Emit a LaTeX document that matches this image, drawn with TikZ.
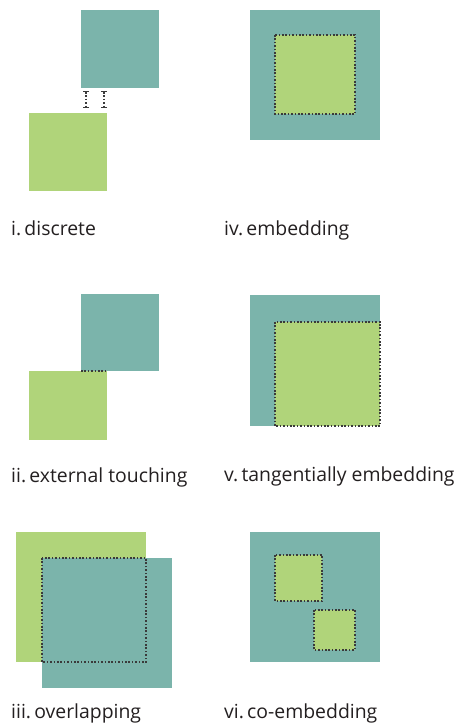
\documentclass[tikz,border=0pt]{standalone}
\usepackage{fontspec}
\setmainfont{Open Sans}
\usetikzlibrary{arrows.meta}
\definecolor{tealbox}{HTML}{7BB4AB}
\definecolor{greenbox}{HTML}{B0D47A}
\definecolor{dotline}{HTML}{3A3A3A}
\definecolor{captext}{HTML}{231F20}
\tikzset{
  edge/.style={dotline, line width=1.7pt, dash pattern=on 1.6pt off 1.8pt},
  caption/.style={anchor=base west, inner sep=0pt, font=\fontsize{19.4}{21}\selectfont, text=captext}
}
\begin{document}
\begin{tikzpicture}[x=1pt, y=-1pt]
\useasboundingbox (0,0) rectangle (461,724);

%i. discrete
\fill[tealbox] (81,10) rectangle (159,88);
\fill[greenbox] (29,113) rectangle (107,191);
\draw[edge, {Bar[width=6pt,line width=1.2pt]}-{Bar[width=6pt,line width=1.2pt]}] (86,91) -- (86,108);
\draw[edge, {Bar[width=6pt,line width=1.2pt]}-{Bar[width=6pt,line width=1.2pt]}] (104,91) -- (104,108);

%iv. embedding
\fill[tealbox] (250,10) rectangle (380,140);
\fill[greenbox] (275,35) rectangle (355,114);
\draw[edge] (275,35) rectangle (355,114);

%ii. external touching
\fill[tealbox] (81,294) rectangle (159,371);
\fill[greenbox] (29,371) rectangle (107,440);
\draw[edge] (81,371) -- (107,371);

%v. tangentially embedding
\fill[tealbox] (250,295) rectangle (380,426);
\fill[greenbox] (275,322) rectangle (380,426);
\draw[edge] (275,322) rectangle (380,426);

%iii. overlapping
\fill[greenbox] (16,532) rectangle (146,662);
\fill[tealbox] (42,558) rectangle (172,688);
\draw[edge] (42,558) rectangle (146,662);

%vi. co-embedding
\fill[tealbox] (250,532) rectangle (380,662);
\fill[greenbox] (275,555) rectangle (322,601);
\draw[edge] (275,555) rectangle (322,601);
\fill[greenbox] (314,610) rectangle (355,650);
\draw[edge] (314,610) rectangle (355,650);

%labels
\node[caption] (capi) at (11,235) {i.\,discrete};
\node[caption] (capiv) at (224,235) {iv.\,embedding};
\node[caption] (capii) at (11,482) {ii.\,external touching};
\node[caption] (capv) at (224,481) {v.\,tangentially embedding};
\node[caption] (capiii) at (11,718) {iii.\,overlapping};
\node[caption] (capvi) at (224,718) {vi.\,co-embedding};

\end{tikzpicture}
\end{document}
